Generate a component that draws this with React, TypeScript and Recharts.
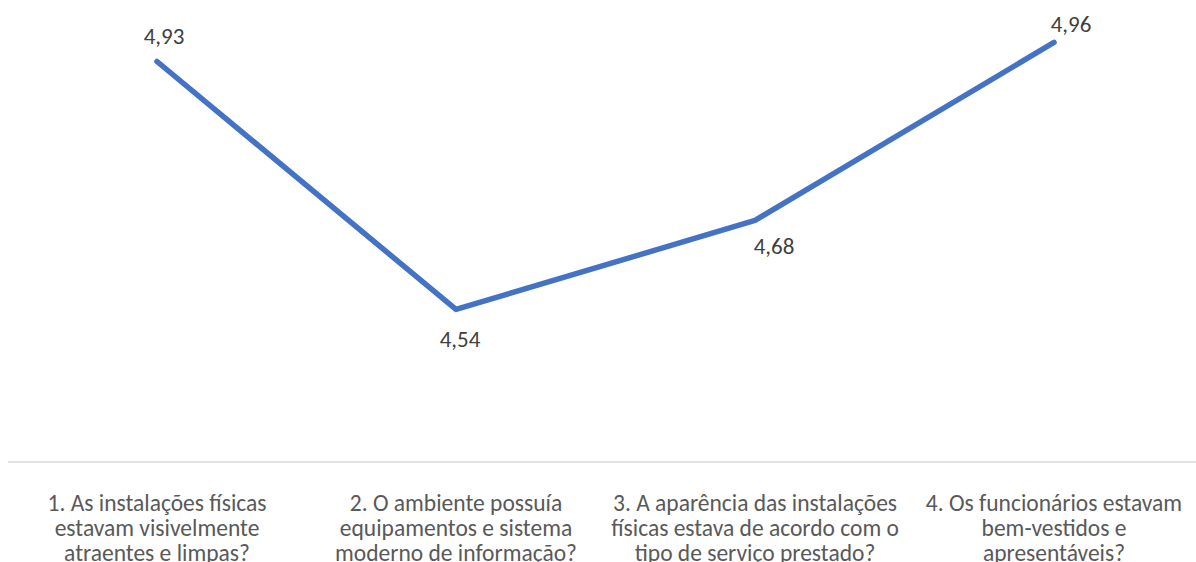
import { LineChart, Line, XAxis, YAxis, LabelList } from 'recharts';

const categories = [
  '1. As instalações físicas\nestavam visivelmente\natraentes e limpas?',
  '2. O ambiente possuía\nequipamentos e sistema\nmoderno de informação?',
  '3. A aparência das instalações\nfísicas estava de acordo com o\ntipo de serviço prestado?',
  '4. Os funcionários estavam\nbem-vestidos e\napresentáveis?',
];
const scores = [4.93, 4.54, 4.68, 4.96];

const data = categories.map((name, i) => ({ name, score: scores[i] }));

const FONT = 'Calibri, Carlito, Lato, sans-serif';

// label nudges per point (Excel placed them a bit irregularly)
const labelNudge = [
  { dx: 7, dy: -26 },
  { dx: 4, dy: 30 },
  { dx: 19, dy: 26 },
  { dx: 17, dy: -18 },
];

const CategoryTick = (props: any) => {
  const { x, y, payload } = props;
  const lines = String(payload.value).split('\n');
  return (
    <text x={x} y={y} textAnchor="middle" fill="#595959" fontSize={23.5} fontFamily={FONT}>
      {lines.map((line, i) => (
        <tspan key={i} x={x} dy={i === 0 ? 49 : 25}>
          {line}
        </tspan>
      ))}
    </text>
  );
};

const ValueLabel = (props: any) => {
  const { x, y, value, index } = props;
  const n = labelNudge[index] || { dx: 0, dy: -20 };
  return (
    <text
      x={x + n.dx}
      y={y + n.dy}
      textAnchor="middle"
      dominantBaseline="central"
      fill="#404040"
      fontSize={23}
      fontFamily={FONT}
    >
      {Number(value).toFixed(2).replace('.', ',')}
    </text>
  );
};

export default function App() {
  return (
    <div style={{ position: 'absolute', left: 0, top: 0, width: 1196, height: 562, overflow: 'hidden', background: '#fff' }}>
      <LineChart width={1203} height={562} data={data} margin={{ top: 17, right: 0, bottom: 0, left: 8 }}>
        <XAxis
          dataKey="name"
          interval={0}
          height={100}
          padding={{ left: 149, right: 149 }}
          tickLine={false}
          tickSize={0}
          tickMargin={0}
          axisLine={{ stroke: '#d9d9d9', strokeWidth: 1.5 }}
          tick={<CategoryTick />}
        />
        <YAxis hide domain={[4.3, 5.0]} />
        <Line
          type="linear"
          dataKey="score"
          stroke="#4472C4"
          strokeWidth={5.5}
          strokeLinecap="round"
          strokeLinejoin="round"
          dot={false}
          activeDot={false}
          isAnimationActive={false}
        >
          <LabelList dataKey="score" content={<ValueLabel />} />
        </Line>
      </LineChart>
    </div>
  );
}
